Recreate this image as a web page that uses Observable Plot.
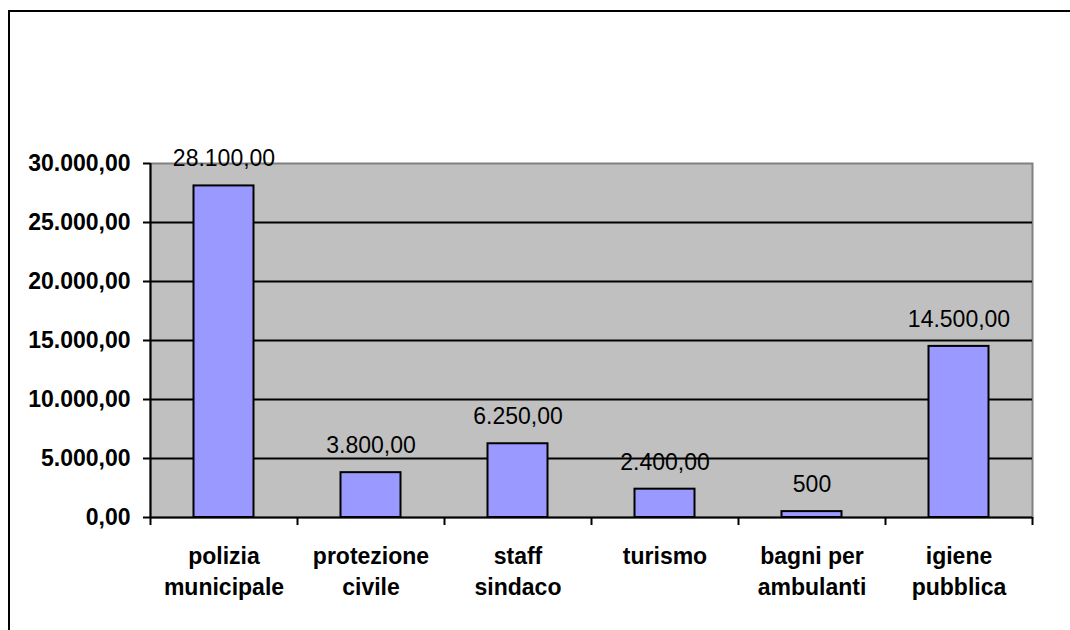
<!DOCTYPE html>
<html><head><meta charset="utf-8">
<script src="https://cdn.jsdelivr.net/npm/d3@7"></script>
<script src="https://cdn.jsdelivr.net/npm/@observablehq/plot@0.6"></script>
<style>
body{margin:0;background:#fff;}
#wrap{position:relative;width:1070px;height:630px;overflow:hidden;}
#chart{position:absolute;left:0;top:0;}
#border{position:absolute;left:8px;top:10px;width:1100px;height:700px;border-left:2px solid #000;border-top:2px solid #000;pointer-events:none;}
</style></head><body><div id="wrap"><div id="chart"></div><div id="border"></div></div>
<script>
const categories = ["polizia municipale","protezione civile","staff sindaco","turismo","bagni per ambulanti","igiene pubblica"];
const categoryLabels = ["polizia\nmunicipale","protezione\ncivile","staff\nsindaco","turismo","bagni per\nambulanti","igiene\npubblica"];
const values = [28100,3800,6250,2400,500,14500];
const valueLabels = ["28.100,00","3.800,00","6.250,00","2.400,00","500","14.500,00"];
const yTicks = [0,5000,10000,15000,20000,25000,30000];

const data = categories.map((c,i)=>({cat:c, value:values[i], label:valueLabels[i]}));
const fmt = d3.formatLocale({decimal:",",thousands:".",grouping:[3],currency:["",""]}).format(",.2f");
const half = (1070-150-38)/6/2;

const plot = Plot.plot({
  width:1070, height:630, marginLeft:150, marginRight:38, marginTop:163, marginBottom:113,
  style:{background:"transparent", fontFamily:"'Liberation Sans', Arial, sans-serif", color:"#000"},
  x:{domain:categories, padding:0, label:null, axis:null},
  y:{domain:[0,30000], label:null, axis:null},
  marks:[
    Plot.frame({fill:"#C0C0C0", stroke:"#808080", strokeWidth:2}),
    Plot.ruleY(yTicks.filter(d=>d>0 && d<30000), {stroke:"#000", strokeWidth:2}),
    Plot.barY(data,{x:"cat", y:"value", fill:"#9999FF", stroke:"#000", strokeWidth:2, insetLeft:43.5, insetRight:43.5}),
    Plot.ruleY([0], {stroke:"#000", strokeWidth:2}),
    Plot.ruleX([categories[0]], {dx:-half, y1:0, y2:30000, stroke:"#000", strokeWidth:2}),
    Plot.ruleX(categories, {x:d=>d, dx:-half, y1:0, y2:0, insetBottom:-8, stroke:"#000", strokeWidth:2}),
    Plot.ruleX([categories[categories.length-1]], {dx:half, y1:0, y2:0, insetBottom:-8, stroke:"#000", strokeWidth:2}),
    Plot.text(data, {x:"cat", y:"value", text:"label", dy:-27, fontSize:23, fill:"#000"}),
    Plot.axisY({ticks:yTicks, tickSize:7, tickPadding:13, tickFormat:fmt, fontSize:23, fontWeight:"bold", strokeWidth:2, label:null}),
    Plot.axisX({tickSize:0, tickPadding:24, tickFormat:d=>categoryLabels[categories.indexOf(d)], fontSize:23, fontWeight:"bold", lineHeight:1.35, label:null})
  ]
});
document.getElementById("chart").appendChild(plot);
</script>
</body></html>
